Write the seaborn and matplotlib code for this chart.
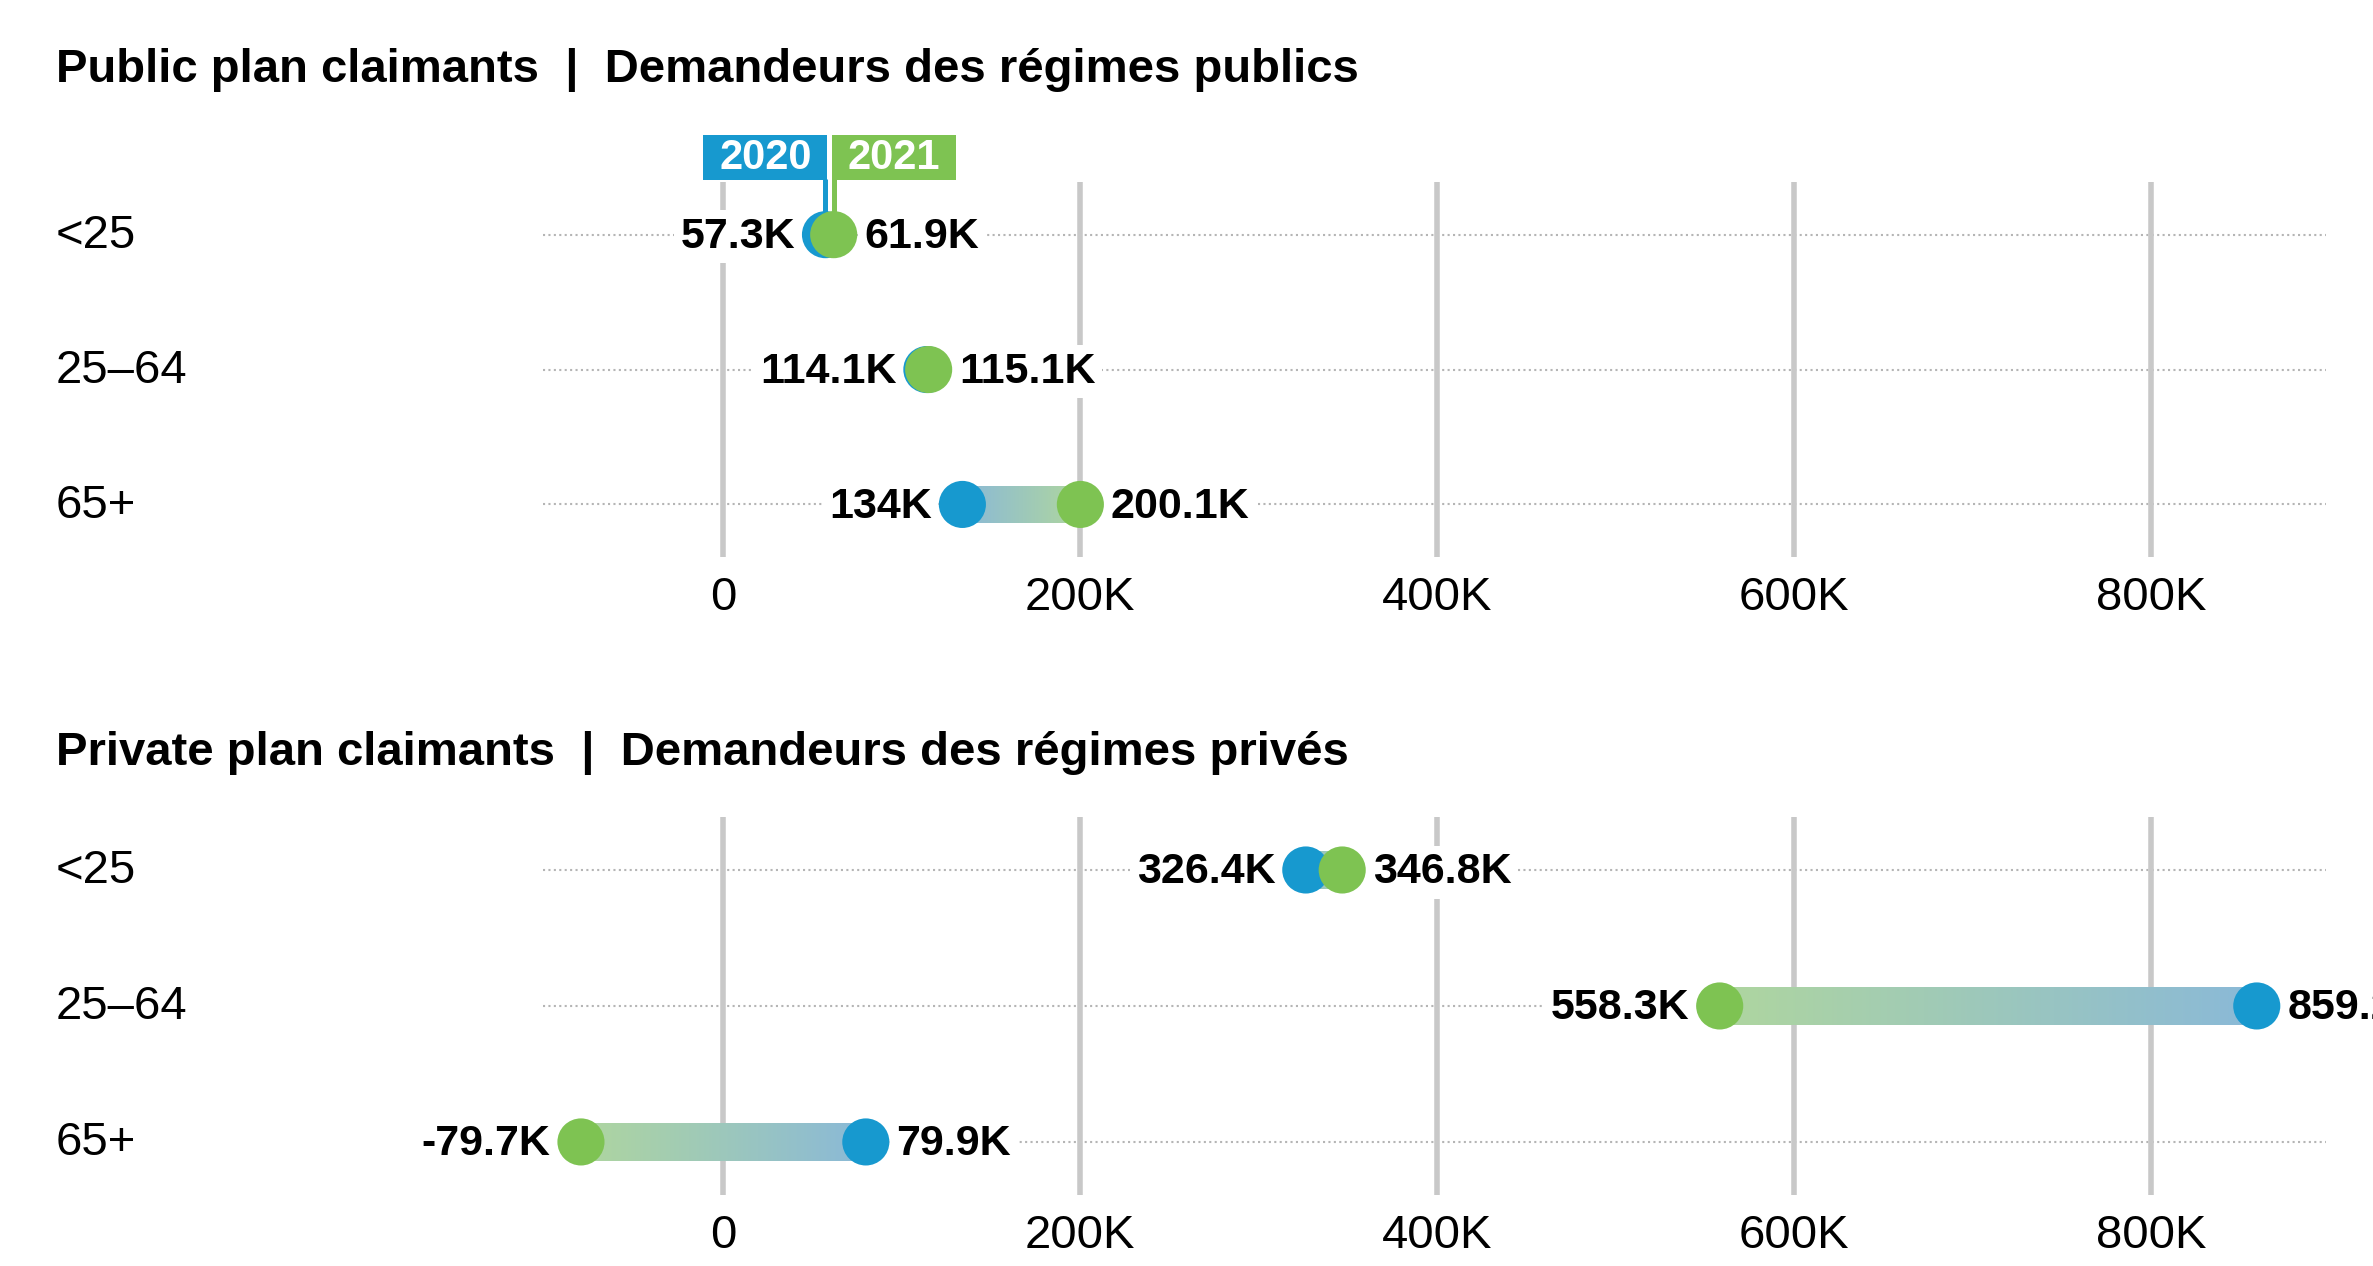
import numpy as np
import pandas as pd
import matplotlib.pyplot as plt
import matplotlib.transforms as mtransforms
from matplotlib.patches import Rectangle
import seaborn as sns

# Data (thousands of claimants)
ages = ['<25', '25–64', '65+']
public_2020 = [57.3, 114.1, 134.0]
public_2021 = [61.9, 115.1, 200.1]
private_2020 = [326.4, 859.2, 79.9]
private_2021 = [346.8, 558.3, -79.7]
tick_values = [0, 200, 400, 600, 800]
tick_labels = ['0', '200K', '400K', '600K', '800K']
titles = ['Public plan claimants  |  Demandeurs des régimes publics',
          'Private plan claimants  |  Demandeurs des régimes privés']

BLUE = '#1799cf'
GREEN = '#7ec352'
BLUE_LIGHT = np.array([0x8a, 0xb9, 0xd8]) / 255
GREEN_LIGHT = np.array([0xaf, 0xd6, 0x9f]) / 255

sns.set_theme(style='white')
plt.rcParams['font.family'] = ['Liberation Sans', 'DejaVu Sans']
plt.rcParams['text.color'] = 'black'
plt.rcParams['xtick.color'] = 'black'

fig = plt.figure(figsize=(23.73, 12.66), dpi=100)
ax_top = fig.add_axes([0.2288, 0.560, 0.7514, 0.2962])
ax_bot = fig.add_axes([0.2288, 0.0561, 0.7514, 0.2986])


def fmt(v):
    s = f'{v:.1f}'
    if s.endswith('.0'):
        s = s[:-2]
    return s + 'K'


def draw_panel(ax, v2020, v2021, title, title_y, show_legend=False):
    rows = np.arange(len(ages))
    df = pd.DataFrame({
        'row': np.concatenate([rows, rows]),
        'value': v2020 + v2021,
        'year': ['2020'] * len(rows) + ['2021'] * len(rows),
    })

    # dotted row guides
    for r in rows:
        ax.axhline(r, color='#b5b5b5', lw=1.5, ls=(0, (1, 1.6)), zorder=0)

    # gradient connectors
    grad = np.linspace(BLUE_LIGHT, GREEN_LIGHT, 256)[None, :, :]
    for r, a, b in zip(rows, v2020, v2021):
        ax.imshow(grad, extent=(a, b, r + 0.137, r - 0.137), aspect='auto',
                  interpolation='bilinear', zorder=2)

    sns.scatterplot(data=df, x='value', y='row', hue='year',
                    palette={'2020': BLUE, '2021': GREEN}, s=1150,
                    linewidth=0, legend=False, ax=ax, zorder=3)

    # value labels
    for r, a, b in zip(rows, v2020, v2021):
        lo, hi = min(a, b), max(a, b)
        ax.annotate(fmt(lo), (lo, r), xytext=(-22, -1.5), textcoords='offset points',
                    ha='right', va='center', fontsize=31, fontweight='bold',
                    color='black', annotation_clip=False, zorder=4,
                    bbox=dict(boxstyle='square,pad=0.15', fc='white', ec='none'))
        ax.annotate(fmt(hi), (hi, r), xytext=(22, -1.5), textcoords='offset points',
                    ha='left', va='center', fontsize=31, fontweight='bold',
                    color='black', annotation_clip=False, zorder=4,
                    bbox=dict(boxstyle='square,pad=0.15', fc='white', ec='none'))

    ax.set_xlim(-101, 898)
    ax.set_ylim(2.39, -0.39)
    ax.set_xticks(tick_values)
    ax.set_xticklabels(tick_labels, fontsize=34)
    ax.set_yticks([])
    ax.set_xlabel('')
    ax.set_ylabel('')
    ax.tick_params(axis='x', length=0, pad=14)
    ax.grid(axis='x', color='#c8c8c8', lw=4)
    ax.grid(axis='y', visible=False)
    ax.set_axisbelow(True)
    for sp in ax.spines.values():
        sp.set_visible(False)

    # row labels
    tr = mtransforms.blended_transform_factory(fig.transFigure, ax.transData)
    for r, lab in zip(rows, ages):
        ax.text(0.0236, r + 0.01, lab, transform=tr, ha='left', va='center', fontsize=34)

    fig.text(0.0236, title_y, title, ha='left', va='center',
             fontsize=34, fontweight='bold')

    if show_legend:
        for x, col, lab, side in [(v2020[0], BLUE, '2020', -1), (v2021[0], GREEN, '2021', 1)]:
            trans = fig.dpi_scale_trans + mtransforms.ScaledTranslation(x, 0, ax.transData)
            ax.plot([0, 0], [0, 0.56], color=col, lw=3.6, transform=trans,
                    clip_on=False, zorder=2.5, solid_capstyle='butt')
            if side < 0:
                x0 = -1.22
            else:
                x0 = -0.02
            ax.add_patch(Rectangle((x0, 0.55), 1.24, 0.45, transform=trans,
                                   fc=col, ec='none', clip_on=False, zorder=2.5))
            ax.text(x0 + 0.62, 0.765, lab, transform=trans, ha='center',
                    va='center', fontsize=30, fontweight='bold', color='white',
                    zorder=2.6)


draw_panel(ax_top, public_2020, public_2021, titles[0], 0.945, show_legend=True)
draw_panel(ax_bot, private_2020, private_2021, titles[1], 0.4055)

fig.savefig('out.png', dpi=100, facecolor='white')
